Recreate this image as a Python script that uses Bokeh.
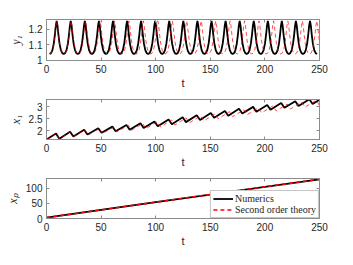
from bokeh.plotting import figure
from bokeh.layouts import column
from bokeh.models import FixedTicker, LinearAxis, Range1d, Legend, LegendItem, CustomJSTickFormatter
from bokeh.embed import file_html
from bokeh.resources import INLINE

# ---------------- data ----------------
t_ticks = [0, 50, 100, 150, 200, 250]
y1_ticks = [1.0, 1.1, 1.2]
x1_ticks = [2.0, 2.5, 3.0]
xp_ticks = [0, 50, 100]

# y1: shape of one oscillation (phase relative to the peak, in periods) and peak times
y1_cycle_phase = [-0.5, -0.4, -0.3, -0.2, -0.12, -0.06, 0.0, 0.06, 0.12, 0.2, 0.3, 0.4, 0.5]
y1_cycle_value = [1.040, 1.045, 1.065, 1.110, 1.170, 1.225, 1.256, 1.225, 1.170, 1.110, 1.065, 1.045, 1.040]
y1_peaks_numerics = [-3.6, 9.3, 22.2, 35.1, 48.0, 60.9, 73.8, 86.6, 99.5, 112.4, 125.3, 138.2,
                     151.1, 164.0, 176.9, 189.8, 202.7, 215.5, 228.4, 241.3, 254.2]
y1_peaks_theory = [-3.9, 9.3, 22.5, 35.8, 49.0, 62.3, 75.5, 88.7, 101.9, 115.2, 128.4, 141.6,
                   154.9, 168.1, 181.4, 194.6, 207.9, 221.0, 234.3, 247.5, 260.7]

# x1: sawtooth (start, peak, trough, ..., end)
x1_t_numerics = [0, 8.7, 11.7, 21.6, 24.6, 34.5, 37.5, 47.4, 50.4, 60.3, 63.3, 73.2, 76.2, 86.0, 89.0,
                 98.9, 101.9, 111.8, 114.8, 124.7, 127.7, 137.6, 140.6, 150.5, 153.5, 163.4, 166.4,
                 176.3, 179.3, 189.2, 192.2, 202.1, 205.1, 214.9, 217.9, 227.8, 230.8, 240.7, 243.7, 250]
x1_numerics = [1.63, 1.88, 1.66, 1.96, 1.76, 2.04, 1.84, 2.10, 1.91, 2.17, 1.98, 2.24, 2.04, 2.31, 2.11,
               2.39, 2.19, 2.47, 2.27, 2.56, 2.36, 2.65, 2.45, 2.74, 2.54, 2.83, 2.63, 2.92, 2.72,
               3.00, 2.80, 3.08, 2.88, 3.16, 2.96, 3.24, 3.04, 3.32, 3.12, 3.30]
x1_t_theory = [0, 8.7, 11.7, 21.9, 24.9, 35.2, 38.2, 48.4, 51.4, 61.7, 64.7, 74.9, 77.9, 88.1, 91.1,
               101.3, 104.3, 114.6, 117.6, 127.8, 130.8, 141.0, 144.0, 154.3, 157.3, 167.5, 170.5,
               180.8, 183.8, 194.0, 197.0, 207.3, 210.3, 220.4, 223.4, 233.7, 236.7, 246.9, 249.9]
x1_theory = [1.63, 1.88, 1.66, 1.96, 1.75, 2.03, 1.82, 2.09, 1.88, 2.16, 1.95, 2.23, 2.02, 2.30, 2.09,
             2.37, 2.16, 2.45, 2.24, 2.54, 2.33, 2.62, 2.41, 2.71, 2.50, 2.80, 2.59, 2.88, 2.67,
             2.96, 2.75, 3.04, 2.83, 3.12, 2.91, 3.20, 2.99, 3.28, 3.07]

# xp: nearly straight line
xp_t = [0, 50, 100, 150, 200, 250]
xp_numerics = [3.0, 28.5, 54.0, 79.5, 105.0, 130.0]
xp_theory = [3.0, 28.6, 54.1, 79.6, 105.1, 130.3]

legend_labels = ["Numerics", "Second order theory"]


def cycles(peaks):
    ts, vs = [], []
    for k in range(1, len(peaks) - 1):
        for ph, v in zip(y1_cycle_phase, y1_cycle_value):
            if ph < 0:
                per = peaks[k] - peaks[k - 1]
            else:
                per = peaks[k + 1] - peaks[k]
            ts.append(peaks[k] + ph * per)
            vs.append(v)
    return ts, vs


BOX = "#8c8c8c"
TXT = "#262626"


def make_fig(height, top, bottom, yr, yticks, ylabel):
    p = figure(width=338, height=height, x_range=Range1d(0, 250), y_range=Range1d(*yr),
               output_backend="svg", toolbar_location=None,
               min_border_left=46, min_border_right=19, min_border_top=top, min_border_bottom=bottom)
    p.xgrid.visible = False
    p.ygrid.visible = False
    p.outline_line_color = BOX
    p.background_fill_color = "white"
    p.border_fill_color = "white"
    for ax in p.xaxis:
        ax.ticker = FixedTicker(ticks=t_ticks)
        ax.axis_label = "t"
    for ax in p.yaxis:
        ax.ticker = FixedTicker(ticks=yticks)
        ax.axis_label = ylabel
        ax.axis_label_text_font = "Liberation Serif"
        ax.axis_label_text_font_style = "italic"
        ax.axis_label_text_font_size = "12px"
        ax.axis_label_text_color = TXT
        ax.axis_label_standoff = 3
    for ax in list(p.xaxis) + list(p.yaxis):
        ax.major_tick_in = 3
        ax.major_tick_out = 0
        ax.minor_tick_line_color = None
        ax.axis_line_color = BOX
        ax.major_tick_line_color = BOX
        ax.major_label_text_font = "Liberation Sans"
        ax.major_label_text_font_size = "10px"
        ax.major_label_text_color = TXT
        ax.major_label_standoff = 4
    for ax in p.xaxis:
        ax.axis_label_text_font = "Liberation Sans"
        ax.axis_label_text_font_style = "normal"
        ax.axis_label_text_font_size = "11px"
        ax.axis_label_text_color = TXT
        ax.axis_label_standoff = 1
    # mirror ticks on top and right
    top_ax = LinearAxis(ticker=FixedTicker(ticks=t_ticks),
                        formatter=CustomJSTickFormatter(code="return ''"))
    right_ax = LinearAxis(ticker=FixedTicker(ticks=yticks),
                          formatter=CustomJSTickFormatter(code="return ''"))
    for ax in (top_ax, right_ax):
        ax.major_tick_in = 3
        ax.major_tick_out = 0
        ax.minor_tick_line_color = None
        ax.axis_line_color = BOX
        ax.major_tick_line_color = BOX
        ax.major_label_text_font_size = "1px"
        ax.major_label_standoff = 0
    p.add_layout(top_ax, "above")
    p.add_layout(right_ax, "right")
    return p


p1 = make_fig(91, 19, 30, (0.997, 1.265), y1_ticks, "y₁")
tn, vn = cycles(y1_peaks_numerics)
tt, vt = cycles(y1_peaks_theory)
p1.line(tn, vn, line_color="black", line_width=1.8)
p1.line(tt, vt, line_color="#ff0000", line_width=1.0, line_dash="4 3", line_alpha=0.7)

p2 = make_fig(79, 8, 29, (1.63, 3.31), x1_ticks, "x₁")
p2.line(x1_t_numerics, x1_numerics, line_color="black", line_width=1.8)
p2.line(x1_t_theory, x1_theory, line_color="#ff0000", line_width=1.0, line_dash="4 3", line_alpha=0.7)

p3 = make_fig(79, 8, 29, (0, 132.6), xp_ticks, "xₚ")
r1 = p3.line(xp_t, xp_numerics, line_color="black", line_width=1.8)
r2 = p3.line(xp_t, xp_theory, line_color="#ff0000", line_width=1.6, line_dash="4 3")
legend = Legend(items=[LegendItem(label=legend_labels[0], renderers=[r1]),
                       LegendItem(label=legend_labels[1], renderers=[r2])],
                location="bottom_right")
legend.margin = 0
legend.padding = 2
legend.spacing = 0
legend.label_height = 11
legend.glyph_height = 11
legend.glyph_width = 20
legend.label_standoff = 2
legend.label_text_font = "Liberation Serif"
legend.label_text_font_size = "10px"
legend.label_text_color = TXT
legend.border_line_color = BOX
legend.background_fill_color = "white"
legend.background_fill_alpha = 1.0
p3.add_layout(legend)

layout = column(p1, p2, p3)
open("out.html", "w").write(file_html(layout, INLINE))
